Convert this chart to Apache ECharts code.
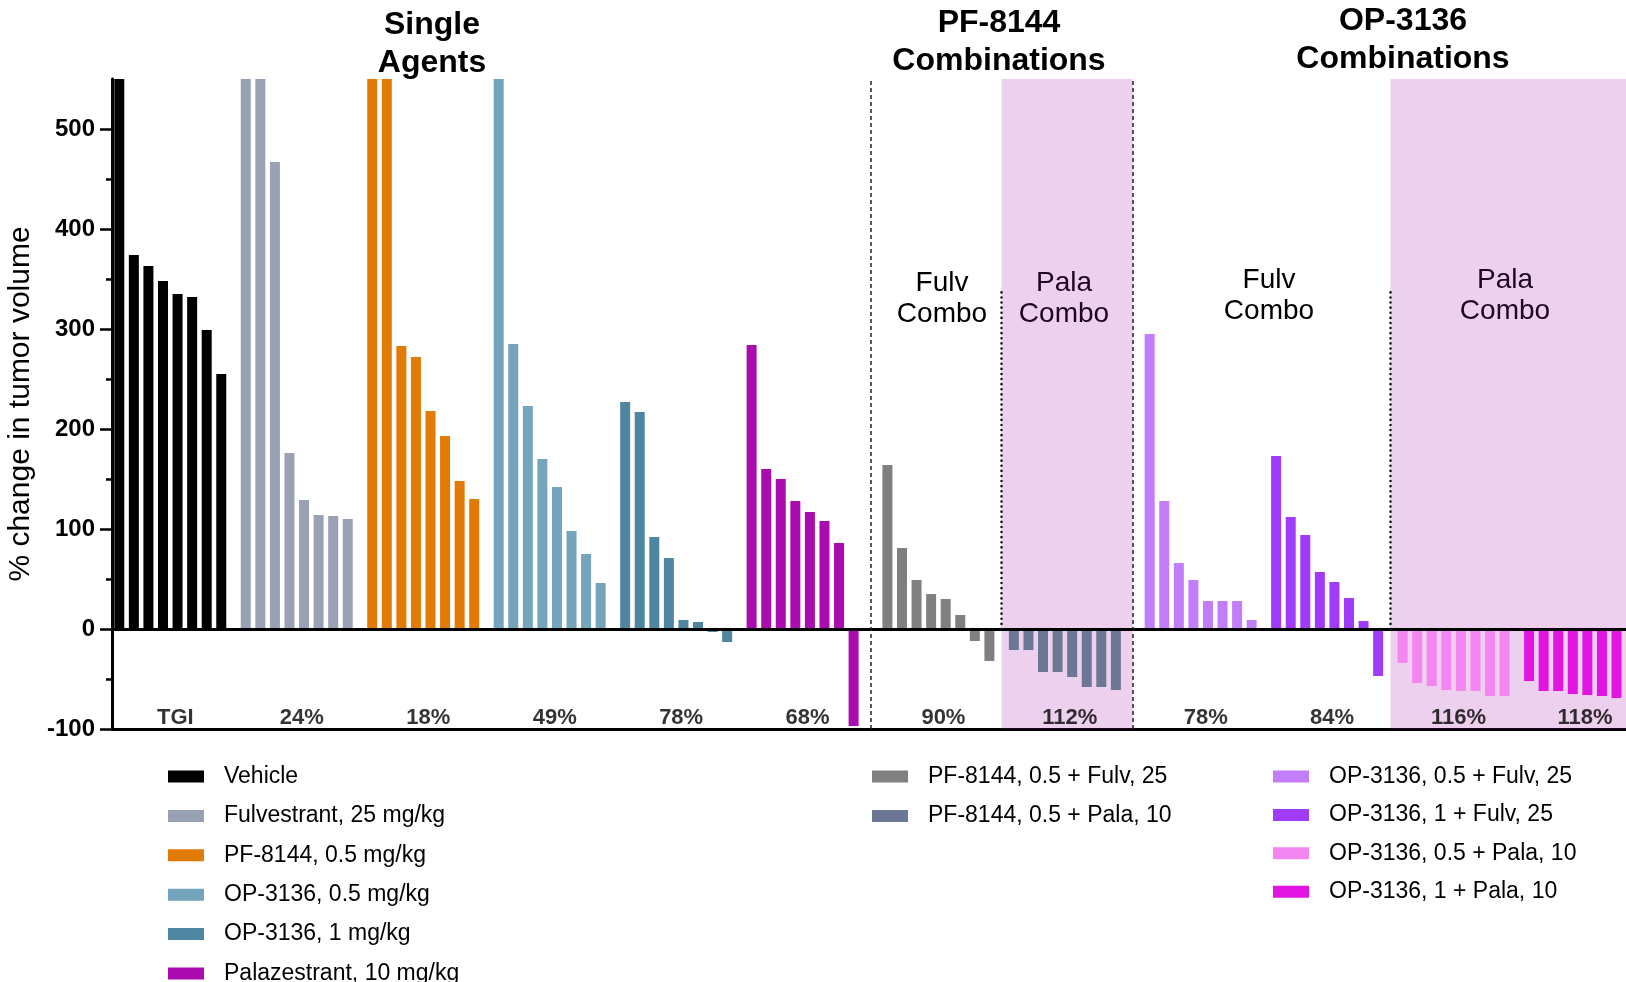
<!DOCTYPE html>
<html>
<head>
<meta charset="utf-8">
<title>Tumor volume change by treatment</title>
<script src="https://cdn.jsdelivr.net/npm/echarts@6/dist/echarts.min.js"></script>
<style>
  html, body { margin: 0; padding: 0; background: #ffffff; }
  #chart { width: 1626px; height: 982px; }
</style>
</head>
<body>
<div id="chart"></div>
<script>
// ---- data: % change in tumor volume per animal, sorted within each arm ----
const groupNames = [
  'Vehicle',
  'Fulvestrant, 25 mg/kg',
  'PF-8144, 0.5 mg/kg',
  'OP-3136, 0.5 mg/kg',
  'OP-3136, 1 mg/kg',
  'Palazestrant, 10 mg/kg',
  'PF-8144, 0.5 + Fulv, 25',
  'PF-8144, 0.5 + Pala, 10',
  'OP-3136, 0.5 + Fulv, 25',
  'OP-3136, 1 + Fulv, 25',
  'OP-3136, 0.5 + Pala, 10',
  'OP-3136, 1 + Pala, 10'
];
const vehicle      = [620, 374, 363, 348, 335, 332, 299, 255];
const fulvestrant  = [700, 640, 467, 176, 129, 114, 113, 110];
const pf8144       = [680, 610, 283, 272, 218, 193, 148, 130];
const op3136Low    = [600, 285, 223, 170, 142, 98, 75, 46];
const op3136High   = [227, 217, 92, 71, 9, 7, -3, -13];
const palazestrant = [284, 160, 150, 128, 117, 108, 86, -97];
const pfFulv       = [164, 81, 49, 35, 30, 14, -12, -32];
const pfPala       = [-21, -21, -43, -43, -48, -58, -58, -61];
const opLowFulv    = [295, 128, 66, 49, 28, 28, 28, 9];
const opHighFulv   = [173, 112, 94, 57, 47, 31, 8, -47];
const opLowPala    = [-34, -54, -57, -61, -62, -62, -67, -67];
const opHighPala   = [-52, -62, -62, -65, -66, -67, -69, -70];
const tgiLabels    = ['TGI', '24%', '18%', '49%', '78%', '68%', '90%', '112%', '78%', '84%', '116%', '118%'];
const yMajorTicks  = [-100, 0, 100, 200, 300, 400, 500];
const yMinorTicks  = [-50, 50, 150, 250, 350, 450];

const groupValues = [vehicle, fulvestrant, pf8144, op3136Low, op3136High, palazestrant,
                     pfFulv, pfPala, opLowFulv, opHighFulv, opLowPala, opHighPala];
const groupColors = ['#000000', '#99a2b4', '#e27b06', '#74a5bc', '#4e86a1', '#ab0cb0',
                     '#808080', '#6b7795', '#c27dfb', '#a03bfb', '#f386f1', '#e114e2'];

// ---- layout on the x value axis (one unit = one bar slot) ----
const FONT = '"Liberation Sans", Arial, Helvetica, sans-serif';
const GROUP_STRIDE = 8.68;     // arm to arm
const SECTION_STRIDE = 9.32;   // arm to arm across a section divider
const SECTION_FIRST = [6, 8];  // first arm of the PF-8144 and OP-3136 combination sections
const X_MIN = -0.5, X_MAX = 105;
const SLOT_PX = 14.57;

const groupStart = [];
let cursor = 0;
groupValues.forEach((vals, k) => {
  if (k > 0) cursor += SECTION_FIRST.includes(k) ? SECTION_STRIDE : GROUP_STRIDE;
  groupStart.push(cursor);
});
const groupCenter = groupStart.map(s => s + 3.5);
const between = k => (groupStart[k - 1] + 7 + groupStart[k]) / 2;

const divPF = between(6), divPFpala = between(7), divOP = between(8), divOPpala = between(10);

const barSeries = groupValues.map((vals, k) => ({
  name: groupNames[k],
  type: 'bar',
  data: vals.map((v, i) => [groupStart[k] + i, v]),
  barWidth: 10,
  barGap: '-100%',
  itemStyle: { color: groupColors[k] },
  z: 2,
  clip: true,
  silent: true,
  emphasis: { disabled: true }
}));

const legendBase = {
  orient: 'vertical',
  top: 765,
  height: 260,
  padding: 0,
  itemWidth: 36,
  itemHeight: 12,
  itemGap: 16.4,
  icon: 'rect',
  selectedMode: false,
  textStyle: { fontSize: 23, color: '#000', fontFamily: FONT, lineHeight: 23, padding: [0, 0, 0, 15] }
};

const titleStyle = { fill: '#000', fontSize: 32, fontWeight: 'bold', fontFamily: FONT, lineHeight: 38, align: 'center', verticalAlign: 'middle' };
const comboStyle = { fill: '#000', fontSize: 28, fontFamily: FONT, lineHeight: 31, align: 'center', verticalAlign: 'middle' };

const chart = echarts.init(document.getElementById('chart'), null, { renderer: 'canvas' });
chart.setOption({
  animation: false,
  backgroundColor: '#ffffff',
  textStyle: { fontFamily: FONT },
  grid: {
    left: 112, top: 79, height: 650, width: (X_MAX - X_MIN) * SLOT_PX,
    containLabel: false, outerBoundsMode: 'none'
  },
  xAxis: {
    type: 'value', min: X_MIN, max: X_MAX,
    axisLine: { show: true, onZero: false, lineStyle: { color: '#000', width: 3 } },
    axisTick: { show: false },
    axisLabel: { show: false },
    splitLine: { show: false }
  },
  yAxis: [{
    type: 'value', min: -100, max: 550, position: 'left',
    axisLine: { show: true, onZero: false, lineStyle: { color: '#000', width: 3 } },
    axisTick: { show: true, customValues: yMajorTicks, length: 12, lineStyle: { color: '#000', width: 2.5 } },
    axisLabel: { customValues: yMajorTicks, fontSize: 24, fontWeight: 'bold', color: '#000', margin: 17, fontFamily: FONT },
    splitLine: { show: false },
    name: '% change in tumor volume',
    nameLocation: 'middle',
    nameGap: 74,
    nameTextStyle: { fontSize: 30, color: '#000', fontFamily: FONT }
  }, {
    type: 'value', min: -100, max: 550, position: 'left',
    axisLine: { show: false, onZero: false },
    axisTick: { show: true, customValues: yMinorTicks, length: 6, lineStyle: { color: '#000', width: 2.5 } },
    axisLabel: { show: false },
    splitLine: { show: false }
  }],
  legend: [
    Object.assign({}, legendBase, { left: 168, data: groupNames.slice(0, 6) }),
    Object.assign({}, legendBase, { left: 872, data: groupNames.slice(6, 8) }),
    Object.assign({}, legendBase, { left: 1273, itemGap: 15.4, data: groupNames.slice(8, 12) })
  ],
  graphic: [
    { type: 'text', x: 432, y: 44, z: 10, style: Object.assign({ text: 'Single\nAgents' }, titleStyle) },
    { type: 'text', x: 999, y: 42, z: 10, style: Object.assign({ text: 'PF-8144\nCombinations' }, titleStyle) },
    { type: 'text', x: 1403, y: 40, z: 10, style: Object.assign({ text: 'OP-3136\nCombinations' }, titleStyle) },
    { type: 'text', x: 942, y: 299, z: 1, style: Object.assign({ text: 'Fulv\nCombo' }, comboStyle) },
    { type: 'text', x: 1064, y: 299, z: 1, style: Object.assign({ text: 'Pala\nCombo' }, comboStyle) },
    { type: 'text', x: 1269, y: 296, z: 1, style: Object.assign({ text: 'Fulv\nCombo' }, comboStyle) },
    { type: 'text', x: 1505, y: 296, z: 1, style: Object.assign({ text: 'Pala\nCombo' }, comboStyle) }
  ],
  series: barSeries.concat([
    {
      // zero baseline
      name: 'baseline', type: 'line', data: [], z: 3, silent: true,
      markLine: {
        silent: true, symbol: ['none', 'none'], label: { show: false },
        lineStyle: { color: '#000', width: 3, type: 'solid' },
        data: [{ yAxis: 0 }]
      }
    },
    {
      // tumor growth inhibition under each arm
      name: 'tgi', type: 'scatter', z: 3, silent: true,
      symbolSize: 0,
      data: groupCenter.map(c => [c, -88.5]),
      label: {
        show: true, position: 'inside', offset: [5, 0],
        formatter: p => tgiLabels[p.dataIndex],
        fontSize: 22, fontWeight: 'bold', color: '#000', fontFamily: FONT
      }
    },
    {
      // palazestrant combination shading
      name: 'shade', type: 'line', data: [], z: 5, silent: true,
      markArea: {
        silent: true,
        itemStyle: { color: 'rgba(160, 20, 170, 0.2)' },
        data: [
          [{ xAxis: divPFpala, yAxis: -100 }, { xAxis: divOP, yAxis: 550 }],
          [{ xAxis: divOPpala, yAxis: -100 }, { xAxis: X_MAX, yAxis: 550 }]
        ]
      }
    },
    {
      // section and sub-section dividers
      name: 'dividers', type: 'line', data: [], z: 6, silent: true,
      markLine: {
        silent: true, symbol: ['none', 'none'], label: { show: false },
        data: [
          { xAxis: divPF, lineStyle: { color: '#222', width: 1.5, type: [4, 3] } },
          { xAxis: divOP, lineStyle: { color: '#222', width: 1.5, type: [4, 3] } },
          [{ coord: [divPFpala, 0], lineStyle: { color: '#111', width: 2.5, type: [0.1, 5], cap: 'round' } }, { coord: [divPFpala, 340] }],
          [{ coord: [divOPpala, 0], lineStyle: { color: '#111', width: 2.5, type: [0.1, 5], cap: 'round' } }, { coord: [divOPpala, 340] }]
        ]
      }
    }
  ])
});
</script>
</body>
</html>
